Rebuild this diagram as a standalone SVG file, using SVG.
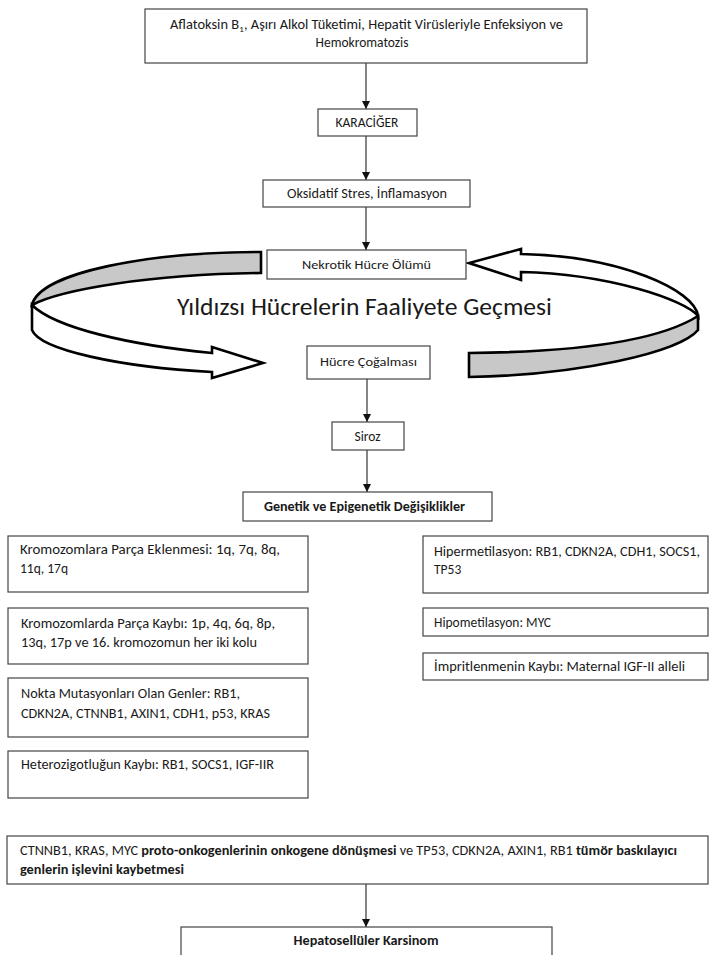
<svg xmlns="http://www.w3.org/2000/svg" width="712" height="955" viewBox="0 0 712 955">
<defs>
<marker id="ah" viewBox="0 0 8 8" refX="8" refY="4" markerWidth="8" markerHeight="8" markerUnits="userSpaceOnUse" orient="auto">
<path d="M0,0 L8,4 L0,8 z" fill="#111"/>
</marker>
</defs>
<style>
.box{fill:#fff;stroke:#444;stroke-width:1.2}
.t{font-family:Carlito,'Liberation Sans',Arial,sans-serif;font-size:13.5px;fill:#1a1a1a}
.s{font-size:11.5px}
.c{text-anchor:middle}
.b{font-weight:bold}
.con{stroke:#333;stroke-width:1.2;fill:none;marker-end:url(#ah)}
.rib{stroke:#000;stroke-width:2.6;stroke-linejoin:miter}
.g{fill:#c8c8c8}
.w{fill:#fff}
</style>
<rect width="712" height="955" fill="#fff"/>

<g id="connectors">
<line class="con" x1="366" y1="63" x2="366" y2="109"/>
<line class="con" x1="366" y1="136" x2="366" y2="180"/>
<line class="con" x1="366" y1="207" x2="366" y2="250"/>
<line class="con" x1="367" y1="379" x2="367" y2="422"/>
<line class="con" x1="367" y1="450" x2="367" y2="492"/>
<line class="con" x1="366" y1="884" x2="366" y2="927"/>
</g>

<g id="loop-left">
<path class="rib g" d="M261,252 C150,252 40,272 32,305 C60,290 150,274 261,273 Z"/>
<path class="rib w" d="M32,305 C55,328 130,345 212,353 L212,347 L263,363 L212,378 L212,372 C120,367 40,350 32,330 Z"/>
</g>
<g id="loop-right">
<path class="rib w" d="M698,316 C695,290 620,256 521,254 L521,249 L469,263 L521,280 L521,272 C610,274 685,300 698,316 Z"/>
<path class="rib g" d="M698,316 C660,340 580,352 469,353 L469,377 C580,375 680,352 698,330 Z"/>
</g>

<g id="n-causes">
<rect class="box" x="145" y="9" width="442" height="54"/>
<text class="t c" x="366.5" y="29" textLength="393" lengthAdjust="spacingAndGlyphs">Aflatoksin B<tspan font-size="9" dy="3">1</tspan><tspan dy="-3">, Aşırı Alkol Tüketimi, Hepatit Virüsleriyle Enfeksiyon ve</tspan></text>
<text class="t c" x="362" y="47">Hemokromatozis</text>
</g>
<g id="n-karaciger">
<rect class="box" x="318" y="109" width="99" height="27"/>
<text class="t c" x="367" y="127">KARACİĞER</text>
</g>
<g id="n-oksidatif">
<rect class="box" x="263" y="180" width="207" height="27"/>
<text class="t c" x="367" y="198" textLength="160" lengthAdjust="spacingAndGlyphs">Oksidatif Stres, İnflamasyon</text>
</g>
<g id="n-nekrotik">
<rect class="box" x="267" y="250" width="199" height="29"/>
<text class="t s c" x="366.5" y="269" textLength="129" lengthAdjust="spacingAndGlyphs">Nekrotik Hücre Ölümü</text>
</g>
<g id="n-yildizsi">
<text class="t c" x="364.5" y="315" textLength="375" lengthAdjust="spacingAndGlyphs" style="font-size:25px">Yıldızsı Hücrelerin Faaliyete Geçmesi</text>
</g>
<g id="n-cogalma">
<rect class="box" x="307" y="346" width="123" height="33"/>
<text class="t s c" x="368.5" y="366" textLength="97" lengthAdjust="spacingAndGlyphs">Hücre Çoğalması</text>
</g>
<g id="n-siroz">
<rect class="box" x="332" y="422" width="72" height="28"/>
<text class="t c" x="367.5" y="441">Siroz</text>
</g>
<g id="n-genetik">
<rect class="box" x="243" y="492" width="249" height="29"/>
<text class="t b c" x="364.5" y="511" textLength="201" lengthAdjust="spacingAndGlyphs">Genetik ve Epigenetik Değişiklikler</text>
</g>

<g id="n-ekleme">
<rect class="box" x="8" y="536" width="300" height="56"/>
<text class="t" x="20" y="554" textLength="260" lengthAdjust="spacingAndGlyphs">Kromozomlara Parça Eklenmesi: 1q, 7q, 8q,</text>
<text class="t" x="20" y="573">11q, 17q</text>
</g>
<g id="n-kayip">
<rect class="box" x="8" y="608" width="300" height="56"/>
<text class="t" x="21" y="628" textLength="254" lengthAdjust="spacingAndGlyphs">Kromozomlarda Parça Kaybı: 1p, 4q, 6q, 8p,</text>
<text class="t" x="21" y="647" textLength="236" lengthAdjust="spacingAndGlyphs">13q, 17p ve 16. kromozomun her iki kolu</text>
</g>
<g id="n-nokta">
<rect class="box" x="8" y="678" width="300" height="59"/>
<text class="t" x="21" y="698" textLength="219" lengthAdjust="spacingAndGlyphs">Nokta Mutasyonları Olan Genler: RB1,</text>
<text class="t" x="21" y="718" textLength="249" lengthAdjust="spacingAndGlyphs">CDKN2A, CTNNB1, AXIN1, CDH1, p53, KRAS</text>
</g>
<g id="n-hetero">
<rect class="box" x="8" y="751" width="300" height="47"/>
<text class="t" x="21" y="769" textLength="253" lengthAdjust="spacingAndGlyphs">Heterozigotluğun Kaybı: RB1, SOCS1, IGF-IIR</text>
</g>

<g id="n-hiper">
<rect class="box" x="423" y="536" width="285" height="57"/>
<text class="t" x="434" y="556" textLength="266" lengthAdjust="spacingAndGlyphs">Hipermetilasyon: RB1, CDKN2A, CDH1, SOCS1,</text>
<text class="t" x="434" y="574">TP53</text>
</g>
<g id="n-hipo">
<rect class="box" x="423" y="608" width="285" height="28"/>
<text class="t" x="434" y="627">Hipometilasyon: MYC</text>
</g>
<g id="n-imprint">
<rect class="box" x="423" y="653" width="285" height="27"/>
<text class="t" x="434" y="671" textLength="251" lengthAdjust="spacingAndGlyphs">İmpritlenmenin Kaybı: Maternal IGF-II alleli</text>
</g>

<g id="n-donusum">
<rect class="box" x="7" y="836" width="701" height="48"/>
<text class="t" x="20" y="855" textLength="657" lengthAdjust="spacingAndGlyphs">CTNNB1, KRAS, MYC <tspan class="b">proto-onkogenlerinin onkogene dönüşmesi</tspan> ve TP53, CDKN2A, AXIN1, RB1 <tspan class="b">tümör baskılayıcı</tspan></text>
<text class="t b" x="20" y="874" textLength="164" lengthAdjust="spacingAndGlyphs">genlerin işlevini kaybetmesi</text>
</g>
<g id="n-hcc">
<rect class="box" x="181" y="927" width="371" height="40"/>
<text class="t b c" x="366" y="945" textLength="145" lengthAdjust="spacingAndGlyphs">Hepatosellüler Karsinom</text>
</g>
</svg>
